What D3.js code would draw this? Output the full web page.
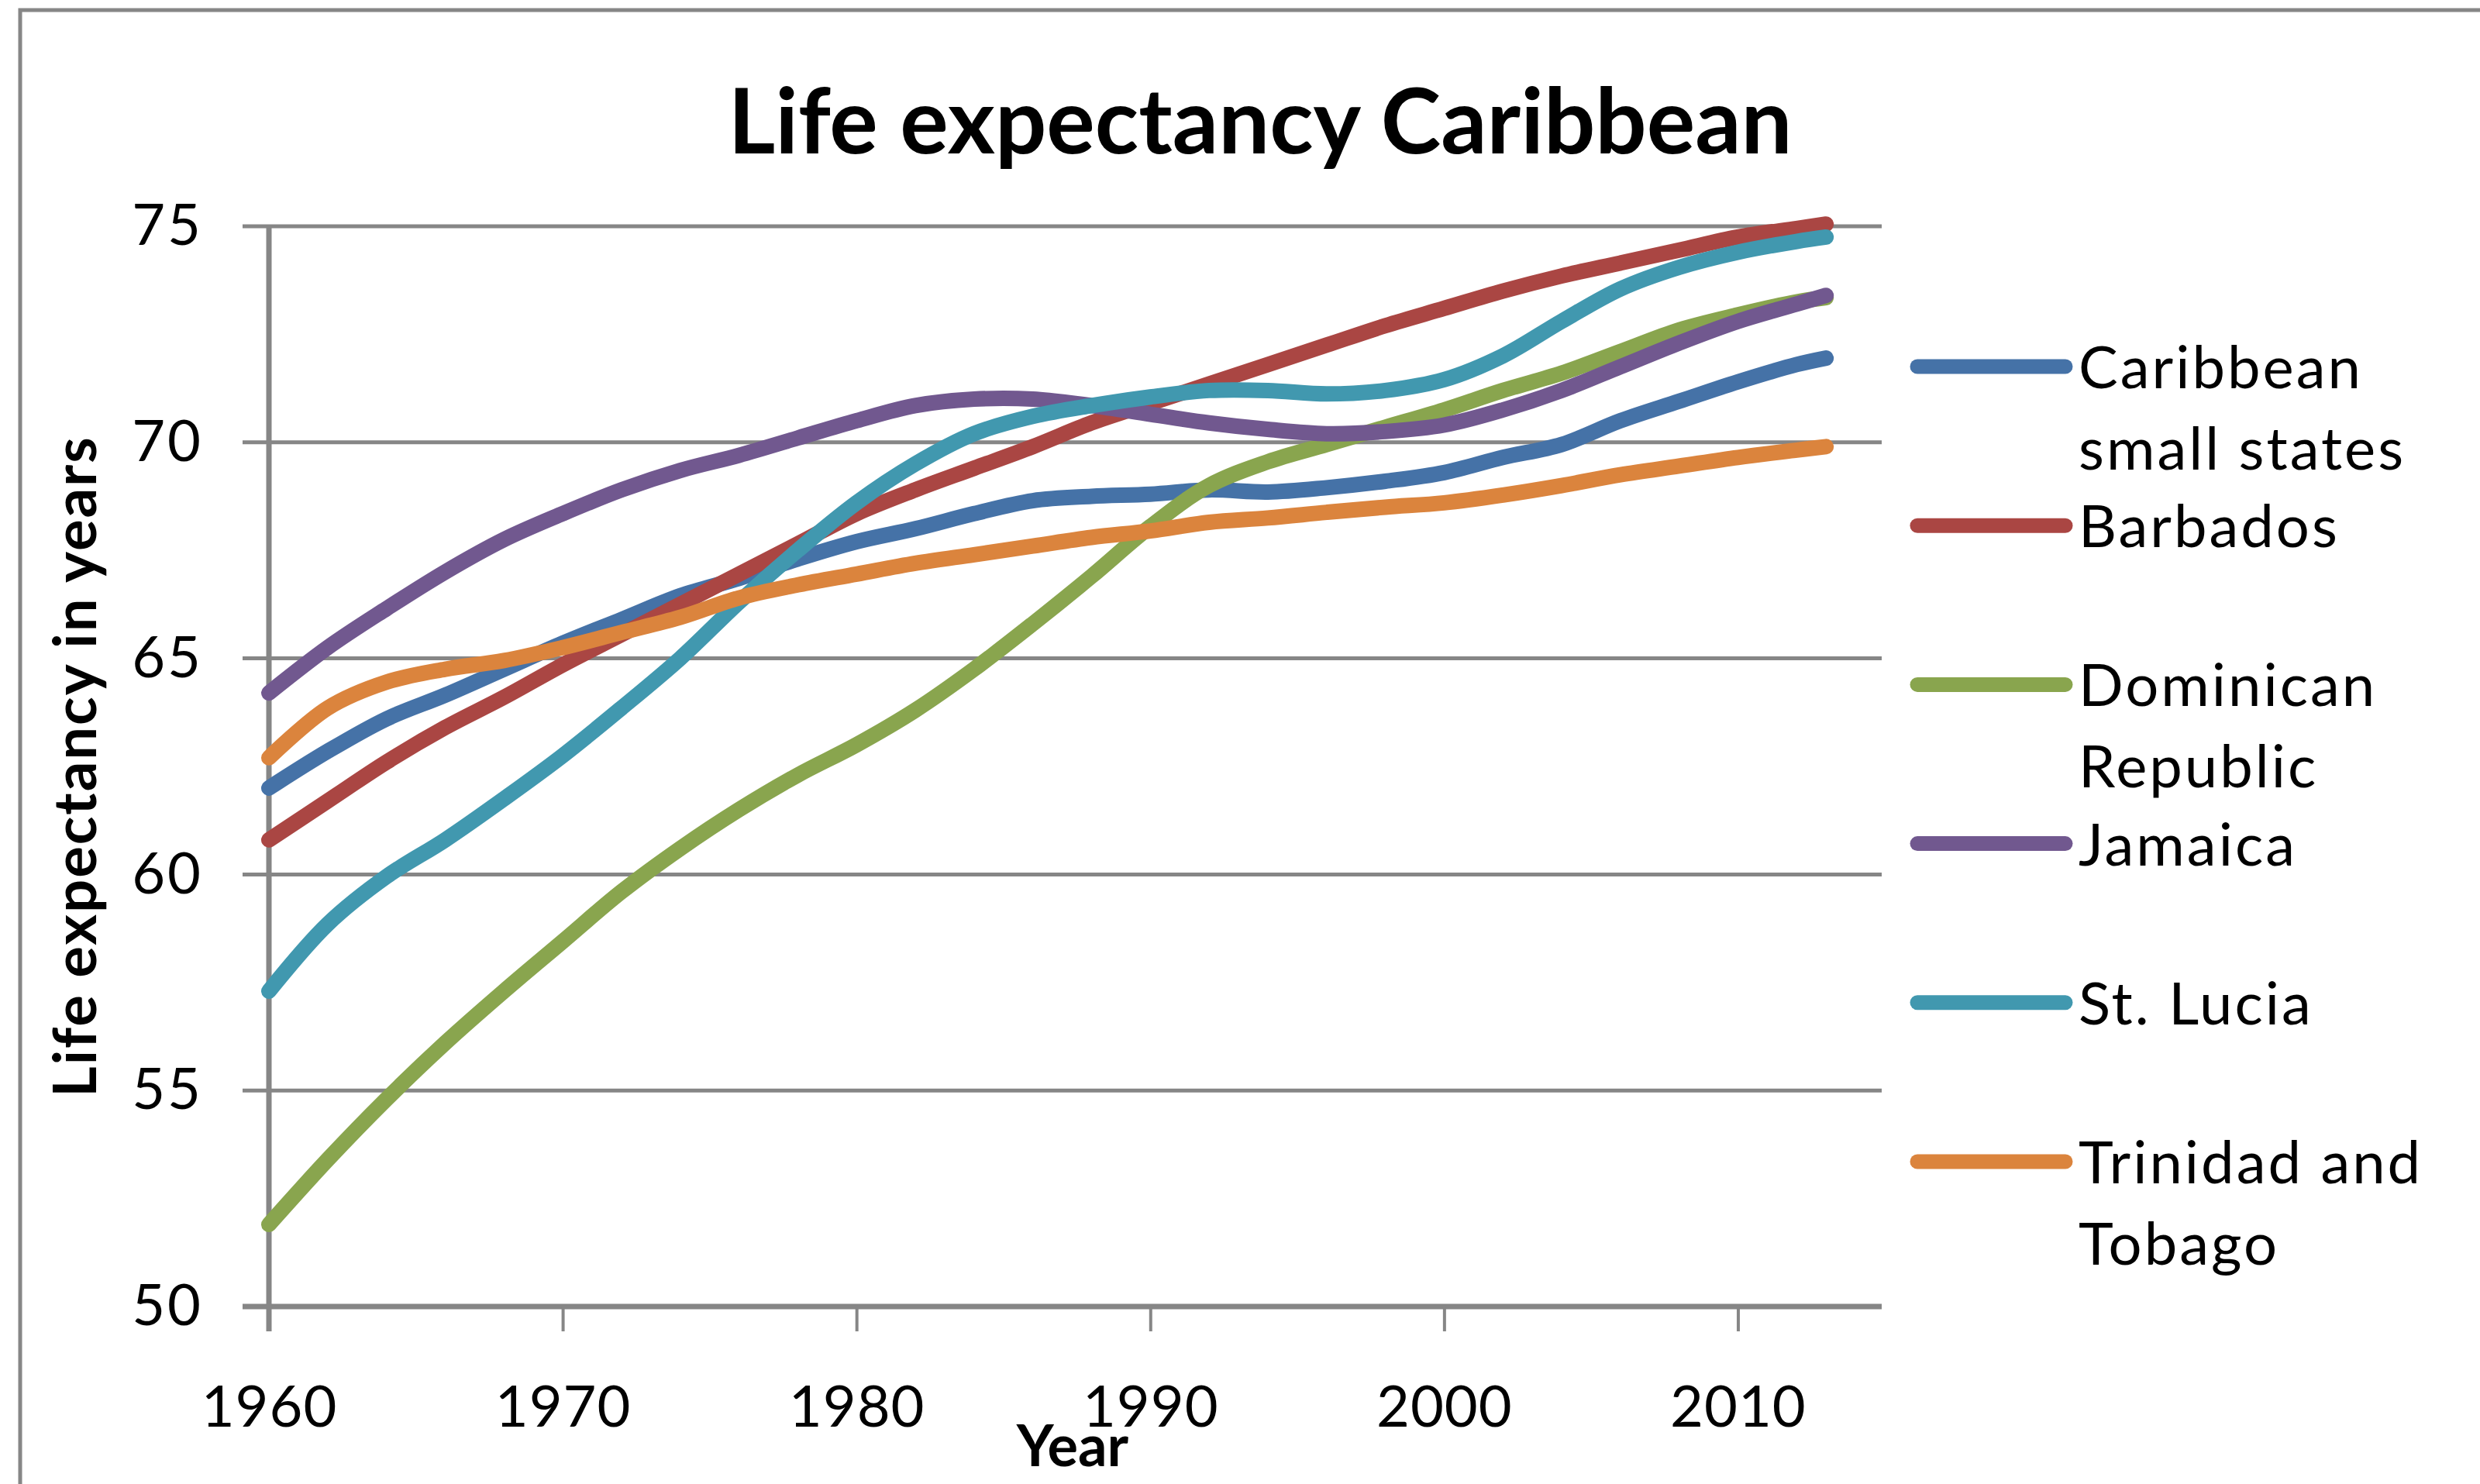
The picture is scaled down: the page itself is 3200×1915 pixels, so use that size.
<!DOCTYPE html>
<html>
<head>
<meta charset="utf-8">
<title>Life expectancy Caribbean</title>
<script src="https://d3js.org/d3.v7.min.js"></script>
<style>
body { margin: 0; background: #fff; }
text { font-family: Lato, "Open Sans", sans-serif; fill: #000; }
</style>
</head>
<body>
<script>
//years (every 2 years plus the last one)
var years = [1960, 1962, 1964, 1966, 1968, 1970, 1972, 1974, 1976, 1978, 1980, 1982, 1984, 1986,
	1988, 1990, 1992, 1994, 1996, 1998, 2000, 2002, 2004, 2006, 2008, 2010, 2012, 2013];

//life expectancy per series
var caribbeanSmallStates = [62.0, 62.85, 63.6, 64.15, 64.75, 65.35, 65.9, 66.45, 66.85, 67.3, 67.7, 68.0, 68.35, 68.65,
	68.75, 68.8, 68.9, 68.85, 68.95, 69.1, 69.3, 69.65, 69.95, 70.5, 70.95, 71.4, 71.8, 71.95];
var barbados = [60.8, 61.7, 62.6, 63.4, 64.1, 64.85, 65.55, 66.25, 66.95, 67.65, 68.35, 68.9, 69.4, 69.9,
	70.45, 70.9, 71.35, 71.8, 72.25, 72.7, 73.1, 73.5, 73.85, 74.15, 74.45, 74.75, 74.95, 75.05];
var dominicanRepublic = [51.9, 53.4, 54.8, 56.1, 57.3, 58.45, 59.6, 60.6, 61.5, 62.3, 63.0, 63.8, 64.75, 65.8,
	66.9, 68.05, 69.0, 69.55, 69.95, 70.35, 70.75, 71.2, 71.6, 72.1, 72.6, 72.95, 73.25, 73.35];
var jamaica = [64.2, 65.25, 66.15, 67.0, 67.75, 68.35, 68.9, 69.35, 69.7, 70.1, 70.5, 70.85, 71.0, 71.0,
	70.85, 70.65, 70.45, 70.3, 70.2, 70.25, 70.4, 70.75, 71.2, 71.75, 72.3, 72.8, 73.2, 73.4];
var stLucia = [57.3, 58.85, 59.95, 60.8, 61.75, 62.75, 63.85, 65.0, 66.3, 67.5, 68.6, 69.5, 70.2, 70.6,
	70.85, 71.05, 71.2, 71.2, 71.12, 71.2, 71.45, 72.0, 72.8, 73.55, 74.05, 74.4, 74.65, 74.75];
var trinidadAndTobago = [62.7, 63.85, 64.45, 64.75, 64.95, 65.25, 65.6, 65.95, 66.4, 66.7, 66.95, 67.2, 67.4, 67.6,
	67.8, 67.95, 68.15, 68.25, 68.38, 68.5, 68.6, 68.78, 69.0, 69.25, 69.45, 69.65, 69.82, 69.9];

var seriesValues = [caribbeanSmallStates, barbados, dominicanRepublic, jamaica, stLucia, trinidadAndTobago];
var legendLabels = [["Caribbean", "small states"], ["Barbados"], ["Dominican", "Republic"],
	["Jamaica"], ["St. Lucia"], ["Trinidad and", "Tobago"]];
var seriesColors = ["#4572A7", "#AA4643", "#89A54E", "#71588F", "#4198AF", "#DB843D"];

var xTicks = [1960, 1970, 1980, 1990, 2000, 2010];
var yTicks = [50, 55, 60, 65, 70, 75];

window.onload = drawChart();

function drawChart(){

	var width = 3200,
		height = 1915;

	var svg = d3.select("body")
		.append("svg")
		.attr("width", width)
		.attr("height", height);

	//outer chart frame (right and bottom edges run off the picture)
	svg.append("rect")
		.attr("x", 26)
		.attr("y", 13)
		.attr("width", 3300)
		.attr("height", 2000)
		.attr("fill", "none")
		.attr("stroke", "#868686")
		.attr("stroke-width", 5);

	var x = d3.scaleLinear()
		.domain([1960, 2015])
		.range([347, 2432]);

	var y = d3.scaleLinear()
		.domain([50, 75])
		.range([1686, 292]);

	//horizontal gridlines, the 50 one doubles as the x axis
	svg.selectAll(".grid")
		.data(yTicks)
		.enter()
		.append("line")
		.attr("class", "grid")
		.attr("x1", 313)
		.attr("x2", x(2015) - 4)
		.attr("y1", function(d){ return y(d); })
		.attr("y2", function(d){ return y(d); })
		.attr("stroke", "#868686")
		.attr("stroke-width", function(d){ return d == 50 ? 7 : 5; });

	//y axis
	var yAxis = svg.append("g")
		.attr("transform", "translate(" + x(1960) + ",0)")
		.call(d3.axisLeft(y)
			.tickValues(yTicks)
			.tickSize(0)
			.tickPadding(85));
	yAxis.select(".domain").remove();
	yAxis.selectAll("text")
		.style("font-size", "74px")
		.style("letter-spacing", "3px");

	svg.append("line")
		.attr("x1", x(1960))
		.attr("x2", x(1960))
		.attr("y1", y(75))
		.attr("y2", y(50) + 32)
		.attr("stroke", "#868686")
		.attr("stroke-width", 7);

	//x axis ticks and labels
	var xAxis = svg.append("g")
		.attr("transform", "translate(0," + y(50) + ")")
		.call(d3.axisBottom(x)
			.tickValues(xTicks)
			.tickFormat(d3.format("d"))
			.tickSizeInner(32)
			.tickSizeOuter(0)
			.tickPadding(70));
	xAxis.select(".domain").remove();
	xAxis.selectAll("line")
		.attr("stroke", "#868686")
		.attr("stroke-width", 4);
	xAxis.selectAll("text")
		.style("font-size", "74px")
		.style("letter-spacing", "1px");

	//series lines
	var line = d3.line()
		.x(function(d, i){ return x(years[i]); })
		.y(function(d){ return y(d); })
		.curve(d3.curveCatmullRom.alpha(0.5));

	svg.selectAll(".series")
		.data(seriesValues)
		.enter()
		.append("path")
		.attr("class", "series")
		.attr("d", line)
		.attr("fill", "none")
		.attr("stroke", function(d, i){ return seriesColors[i]; })
		.attr("stroke-width", 20)
		.attr("stroke-linecap", "round")
		.attr("stroke-linejoin", "round");

	//titles
	svg.append("text")
		.attr("x", 1626)
		.attr("y", 198)
		.attr("text-anchor", "middle")
		.style("font-size", "117px")
		.style("font-weight", "bold")
		.text("Life expectancy Caribbean");

	svg.append("text")
		.attr("transform", "translate(124," + ((y(50) + y(75)) / 2) + ") rotate(-90)")
		.attr("text-anchor", "middle")
		.style("font-size", "76px")
		.style("font-weight", "bold")
		.style("letter-spacing", "2px")
		.text("Life expectancy in years");

	svg.append("text")
		.attr("x", 1384)
		.attr("y", 1892)
		.attr("text-anchor", "middle")
		.style("font-size", "74px")
		.style("font-weight", "bold")
		.text("Year");

	//legend
	var legend = svg.selectAll(".legend")
		.data(legendLabels)
		.enter()
		.append("g")
		.attr("class", "legend")
		.attr("transform", function(d, i){ return "translate(0," + (473 + i * 205.2) + ")"; });

	legend.append("line")
		.attr("x1", 2474)
		.attr("x2", 2665)
		.attr("stroke", function(d, i){ return seriesColors[i]; })
		.attr("stroke-width", 19)
		.attr("stroke-linecap", "round");

	legend.append("text")
		.attr("x", 2682)
		.attr("y", 28)
		.style("font-size", "76px")
		.style("letter-spacing", "3px")
		.selectAll("tspan")
		.data(function(d){ return d; })
		.enter()
		.append("tspan")
		.attr("x", 2682)
		.attr("dy", function(d, i){ return i == 0 ? 0 : 105; })
		.text(function(d){ return d; });
};
</script>
</body>
</html>
